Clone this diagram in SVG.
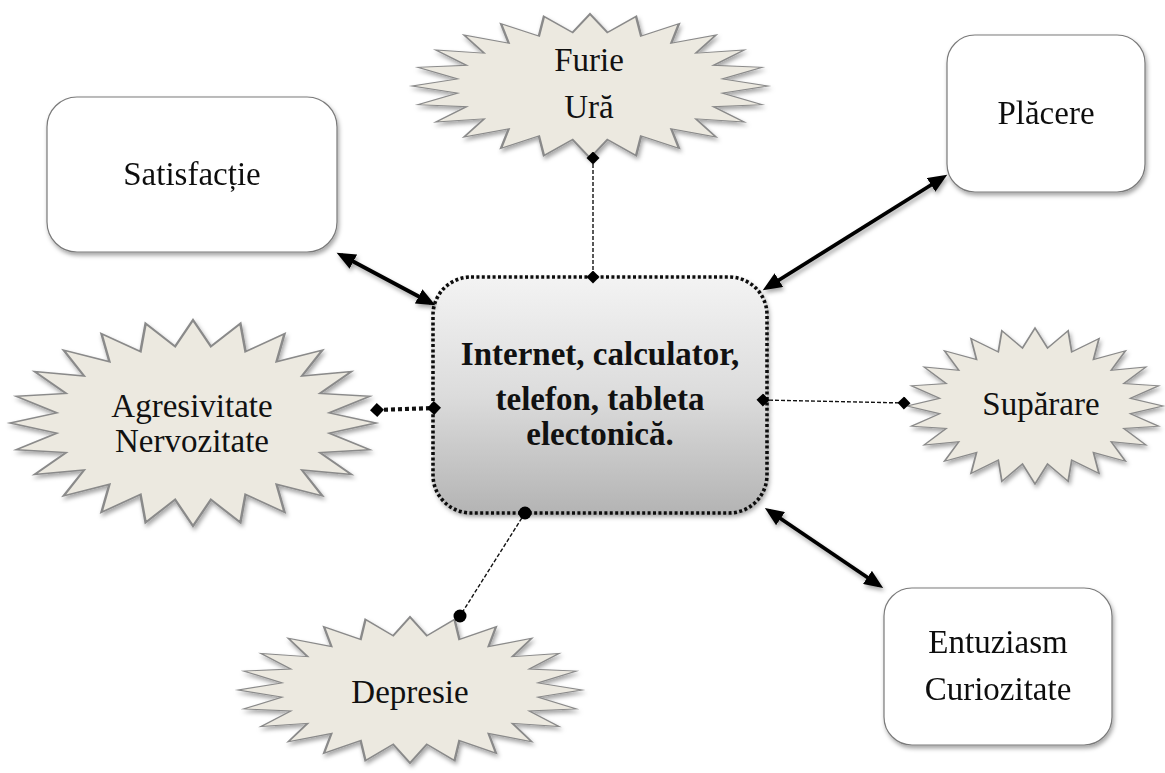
<svg xmlns="http://www.w3.org/2000/svg" xmlns:xlink="http://www.w3.org/1999/xlink" width="1165" height="773" viewBox="0 0 1165 773">
<style>
  .lbl { font-family: "Liberation Serif", "Times New Roman", serif; font-size: 33px; fill: #111; text-anchor: middle; }
  .bold { font-weight: bold; }
  .box { fill: #ffffff; stroke: #7a7a7a; stroke-width: 1.2; }
  .star { fill: #ece9e0; stroke: #8a8a8a; stroke-width: 1.4; vector-effect: non-scaling-stroke; stroke-linejoin: miter; }
  .arrow { stroke: #000; stroke-width: 3.8; fill: none; marker-start: url(#ah); marker-end: url(#ah); }
  .dash { stroke: #111; stroke-width: 1.4; stroke-dasharray: 4 2; fill: none; }
  .dots { stroke: #111; stroke-width: 4.2; stroke-dasharray: 4 3; fill: none; }
</style>
<defs>
  <filter id="sh" x="-10%" y="-10%" width="125%" height="130%">
    <feDropShadow dx="1.5" dy="3" stdDeviation="2" flood-color="#000" flood-opacity="0.35"/>
  </filter>
  <linearGradient id="cg" x1="0" y1="0" x2="0" y2="1">
    <stop offset="0" stop-color="#f3f3f3"/>
    <stop offset="0.5" stop-color="#dcdcdc"/>
    <stop offset="1" stop-color="#b4b4b4"/>
  </linearGradient>
  <polygon id="star24" points="100,0 74.36,9.79 96.59,25.88 69.29,28.7 86.6,50 59.5,45.66 70.71,70.71 45.66,59.5 50,86.6 28.7,69.29 25.88,96.59 9.79,74.36 0,100 -9.79,74.36 -25.88,96.59 -28.7,69.29 -50,86.6 -45.66,59.5 -70.71,70.71 -59.5,45.66 -86.6,50 -69.29,28.7 -96.59,25.88 -74.36,9.79 -100,0 -74.36,-9.79 -96.59,-25.88 -69.29,-28.7 -86.6,-50 -59.5,-45.66 -70.71,-70.71 -45.66,-59.5 -50,-86.6 -28.7,-69.29 -25.88,-96.59 -9.79,-74.36 0,-100 9.79,-74.36 25.88,-96.59 28.7,-69.29 50,-86.6 45.66,-59.5 70.71,-70.71 59.5,-45.66 86.6,-50 69.29,-28.7 96.59,-25.88 74.36,-9.79"/>
  <marker id="ah" markerUnits="userSpaceOnUse" markerWidth="20" markerHeight="16" refX="14" refY="8" orient="auto-start-reverse">
    <path d="M0,0 L19,8 L0,16 z" fill="#000"/>
  </marker>
  <marker id="dm" markerUnits="userSpaceOnUse" markerWidth="14" markerHeight="14" refX="6.5" refY="6.5" orient="auto">
    <path d="M0,6.5 L6.5,0 L13,6.5 L6.5,13 z" fill="#000"/>
  </marker>
  <marker id="dml" markerUnits="userSpaceOnUse" markerWidth="15" markerHeight="15" refX="7" refY="7" orient="auto">
    <path d="M0,7 L7,0 L14,7 L7,14 z" fill="#000"/>
  </marker>
  <marker id="ci" markerUnits="userSpaceOnUse" markerWidth="14" markerHeight="14" refX="7" refY="7">
    <circle cx="7" cy="7" r="6.5" fill="#000"/>
  </marker>
</defs>

<rect width="1165" height="773" fill="#fff"/>

<g id="node-satisfactie" filter="url(#sh)">
  <rect class="box" x="47" y="97" width="290" height="155" rx="30"/>
  <text class="lbl" x="192" y="185">Satisfacție</text>
</g>

<g id="node-placere" filter="url(#sh)">
  <rect class="box" x="947" y="35" width="198" height="157" rx="28"/>
  <text class="lbl" x="1046" y="124">Plăcere</text>
</g>

<g id="node-entuziasm" filter="url(#sh)">
  <rect class="box" x="884" y="588" width="228" height="157" rx="28"/>
  <text class="lbl" x="998" y="653">Entuziasm</text>
  <text class="lbl" x="998" y="700">Curiozitate</text>
</g>

<g id="node-furie">
  <g filter="url(#sh)"><use xlink:href="#star24" class="star" transform="translate(590,86) scale(1.78,0.72)"/></g>
  <text class="lbl" x="589" y="71">Furie</text>
  <text class="lbl" x="589" y="118">Ură</text>
</g>

<g id="node-agresivitate">
  <g filter="url(#sh)"><use xlink:href="#star24" class="star" transform="translate(193,423) scale(1.83,1.03)"/></g>
  <text class="lbl" x="192" y="417">Agresivitate</text>
  <text class="lbl" x="192" y="452">Nervozitate</text>
</g>

<g id="node-suparare">
  <g filter="url(#sh)"><use xlink:href="#star24" class="star" transform="translate(1035,406) scale(1.28,0.78)"/></g>
  <text class="lbl" x="1041" y="415">Supărare</text>
</g>

<g id="node-depresie">
  <g filter="url(#sh)"><use xlink:href="#star24" class="star" transform="translate(410,690) scale(1.72,0.73)"/></g>
  <text class="lbl" x="410" y="703">Depresie</text>
</g>

<g id="node-central">
  <rect x="433" y="277" width="334" height="236" rx="38" fill="url(#cg)" stroke="#111" stroke-width="3.6" stroke-dasharray="3 2.4" filter="url(#sh)"/>
  <text class="lbl bold" x="600" y="365">Internet, calculator,</text>
  <text class="lbl bold" x="600" y="410">telefon, tableta</text>
  <text class="lbl bold" x="600" y="445">electonică.</text>
</g>

<g id="connectors">
  <line class="arrow" x1="341" y1="255" x2="431" y2="303" filter="url(#sh)"/>
  <line class="arrow" x1="767" y1="287.5" x2="943" y2="177.5" filter="url(#sh)"/>
  <line class="arrow" x1="769" y1="510.7" x2="879" y2="585.3" filter="url(#sh)"/>
  <line class="dash" x1="593" y1="158" x2="593" y2="277" marker-start="url(#dm)" marker-end="url(#dm)"/>
  <line class="dash" x1="763" y1="400" x2="904" y2="403" marker-start="url(#dm)" marker-end="url(#dm)"/>
  <line class="dots" x1="377" y1="410" x2="434" y2="408" marker-start="url(#dml)" marker-end="url(#dml)"/>
  <line class="dash" x1="525" y1="513" x2="460" y2="616" marker-start="url(#ci)" marker-end="url(#ci)"/>
</g>
</svg>
